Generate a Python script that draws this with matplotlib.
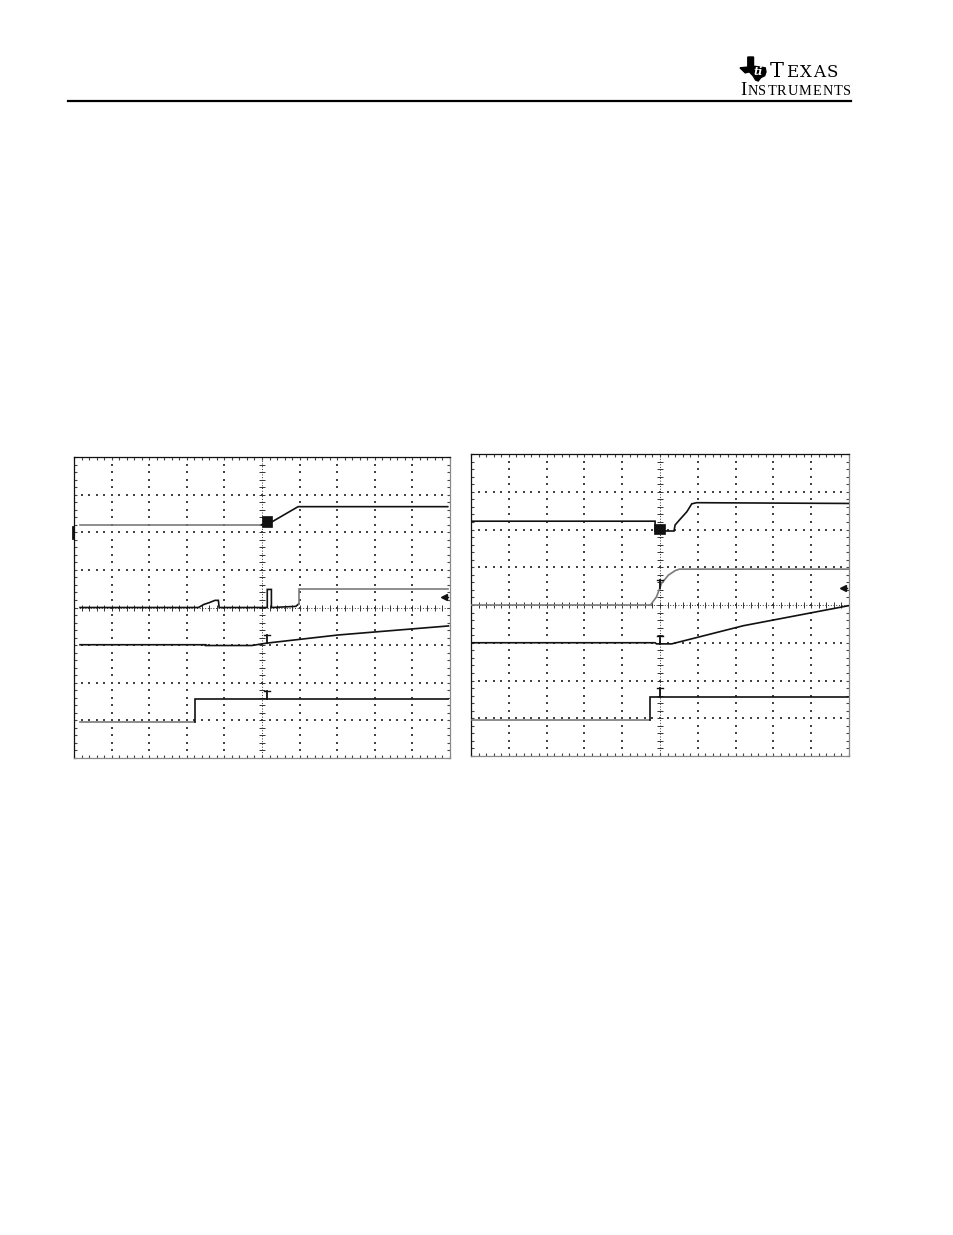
import numpy as np
import matplotlib.pyplot as plt
from matplotlib.lines import Line2D
from matplotlib.patches import Polygon, Rectangle

W, H = 954, 1235
fig = plt.figure(figsize=(W / 100, H / 100), dpi=100)
fig.patch.set_facecolor('white')

# ---------------- data (grid divisions: x 0..10, y 0..8) ----------------
# Left scope capture
L1_x = [0.16, 4.99, 5.27, 5.96, 9.94]
L1_y = [6.20, 6.20, 6.28, 6.68, 6.68]
L2_x = [0.16, 3.31, 3.45, 3.60, 3.75, 3.84, 3.86, 5.14, 5.14, 5.25, 5.25, 5.90, 5.98, 5.98, 9.94]
L2_y = [4.00, 4.00, 4.08, 4.13, 4.19, 4.19, 4.00, 4.00, 4.48, 4.48, 4.00, 4.03, 4.10, 4.48, 4.48]
L3_x = [0.16, 3.50, 3.50, 4.73, 5.04, 5.27, 7.03, 9.96]
L3_y = [3.01, 3.01, 2.99, 2.99, 3.04, 3.07, 3.27, 3.51]
L4_x = [0.16, 3.22, 3.22, 9.96]
L4_y = [0.96, 0.96, 1.57, 1.57]
# Right scope capture
R1_x = [0.02, 4.87, 4.87, 5.37, 5.40, 5.53, 5.71, 5.84, 5.97, 9.98]
R1_y = [6.22, 6.22, 5.96, 5.96, 6.12, 6.27, 6.47, 6.68, 6.71, 6.69]
R2_x = [0.02, 4.75, 4.91, 5.04, 5.22, 5.40, 5.51, 9.98]
R2_y = [4.00, 4.00, 4.22, 4.57, 4.79, 4.91, 4.95, 4.95]
R3_x = [0.02, 4.87, 4.91, 5.31, 7.20, 9.98]
R3_y = [3.00, 3.00, 2.97, 2.97, 3.45, 3.98]
R4_x = [0.02, 4.74, 4.74, 9.98]
R4_y = [0.95, 0.95, 1.55, 1.55]

# trace colours: (colour before, colour after, index of the point where it switches)
L_colors = [('#7a7a7a', '#111111', 1), ('#111111', '#7a7a7a', 12),
            ('#111111', '#111111', 0), ('#7a7a7a', '#111111', 1)]
R_colors = [('#111111', '#111111', 0), ('#7a7a7a', '#7a7a7a', 0),
            ('#111111', '#111111', 0), ('#7a7a7a', '#111111', 1)]

# cursor "T" markers: x, y bottom, y top
L_marks_x = [5.12, 5.12]
L_marks_y0 = [3.06, 1.57]
L_marks_y1 = [3.27, 1.78]
R_marks_x = [5.00, 5.00, 5.00]
R_marks_y0 = [4.44, 2.98, 1.57]
R_marks_y1 = [4.66, 3.19, 1.80]
# trigger boxes: x0, x1, y0, y1
L_box = (4.99, 5.27, 6.15, 6.42)
R_box = (4.84, 5.13, 5.88, 6.15)
# trigger level arrows at right edge (y)
L_arrow_y = 4.28
R_arrow_y = 4.44
# channel ground marker on the left edge
L_gnd = (5.86, 6.15)


def ax_at(x0, y0, x1, y1):
    return fig.add_axes([x0 / W, 1 - y1 / H, (x1 - x0) / W, (y1 - y0) / H])


def scope(ax, traces, colors, mx, my0, my1, box, arrow_y):
    ax.set_xlim(0, 10)
    ax.set_ylim(0, 8)
    ax.set_facecolor('white')
    for s in ['top', 'left']:
        ax.spines[s].set_color('#111111')
        ax.spines[s].set_linewidth(0.9)
    for s in ['right', 'bottom']:
        ax.spines[s].set_color('#8a8a8a')
        ax.spines[s].set_linewidth(0.9)
    ax.set_xticks(np.arange(0, 10.001, 0.2))
    ax.set_yticks(np.arange(0, 8.001, 0.2))
    ax.tick_params(direction='in', length=2.0, width=0.8, color='#444444',
                   top=True, right=True, labelbottom=False, labelleft=False)
    # dotted graticule
    for xv in [1, 2, 3, 4, 6, 7, 8, 9]:
        yy = np.arange(0.2, 8.0, 0.2)
        ax.scatter(np.full_like(yy, xv), yy, s=0.9, marker='s', c='#444444', linewidths=0, zorder=1)
    for yv in [1, 2, 3, 5, 6, 7]:
        xx = np.arange(0.2, 10.0, 0.2)
        ax.scatter(xx, np.full_like(xx, yv), s=0.9, marker='s', c='#444444', linewidths=0, zorder=1)
    # centre lines with ticks
    ax.axvline(5, color='#333333', lw=0.7, ls=(0, (1, 1.8)), zorder=1)
    ax.axhline(4, color='#333333', lw=0.7, ls=(0, (1, 1.8)), zorder=1)
    yy = np.arange(0.2, 8.0, 0.2)
    ax.plot(np.full_like(yy, 5), yy, ls='none', marker='_', ms=4, mew=0.7, color='#333333', zorder=1)
    xx = np.arange(0.2, 10.0, 0.2)
    ax.plot(xx, np.full_like(xx, 4), ls='none', marker='|', ms=4, mew=0.7, color='#333333', zorder=1)
    # traces
    for (xs, ys), (c0, c1, i) in zip(traces, colors):
        if i > 0:
            ax.plot(xs[:i + 1], ys[:i + 1], color=c0, lw=1.2, solid_joinstyle='miter', zorder=3)
        ax.plot(xs[i:], ys[i:], color=c1, lw=1.2, solid_joinstyle='miter', zorder=3)
    # cursor markers
    for x, y0, y1 in zip(mx, my0, my1):
        ax.plot([x, x], [y0, y1], color='#111111', lw=1.3, zorder=4)
        ax.plot([x - 0.08, x + 0.08], [y1, y1], color='#111111', lw=1.0, zorder=4)
    # trigger box
    x0, x1, y0, y1 = box
    ax.add_patch(Rectangle((x0, y0), x1 - x0, y1 - y0, facecolor='#111111',
                           edgecolor='#111111', lw=0.5, zorder=4))
    # trigger level arrow
    ax.plot([9.82, 9.96], [arrow_y, arrow_y], color='#111111', lw=1.0, clip_on=False, zorder=4)
    ax.plot([9.83], [arrow_y], marker='<', ms=4, color='#111111', clip_on=False, zorder=4)


axL = ax_at(74, 457, 450, 758)
scope(axL, [(L1_x, L1_y), (L2_x, L2_y), (L3_x, L3_y), (L4_x, L4_y)], L_colors,
      L_marks_x, L_marks_y0, L_marks_y1, L_box, L_arrow_y)
axL.plot([-0.03, -0.03], list(L_gnd), color='#111111', lw=2.0, clip_on=False, zorder=5)

axR = ax_at(471, 454, 849, 756)
scope(axR, [(R1_x, R1_y), (R2_x, R2_y), (R3_x, R3_y), (R4_x, R4_y)], R_colors,
      R_marks_x, R_marks_y0, R_marks_y1, R_box, R_arrow_y)

# ---------------- page header ----------------
fig.add_artist(Line2D([68 / W, 851 / W], [1 - 101 / H, 1 - 101 / H], color='black', lw=1.6))

renderer = fig.canvas.get_renderer()


def small_caps(x0_px, x1_px, base_px, word, big, small, family='DejaVu Serif'):
    """Place letters one by one so that the word spans x0..x1 pixels."""
    texts = []
    widths = []
    for k, ch in enumerate(word):
        t = fig.text(0, 1 - base_px / H, ch, fontsize=big if k == 0 else small,
                     family=family, va='baseline', ha='left', color='black')
        widths.append(t.get_window_extent(renderer).width)
        texts.append(t)
    total = sum(widths)
    gap = (x1_px - x0_px - total) / max(len(word) - 1, 1)
    x = x0_px
    for t, w in zip(texts, widths):
        t.set_x(x / W)
        x += w + gap


small_caps(770, 838, 77, 'TEXAS', 15, 12)
small_caps(740, 851, 95, 'INSTRUMENTS', 13.5, 10.3, family='Liberation Serif')

# TI state-shaped emblem
ex0, ey0, ew, eh = 740, 57, 26, 24
shape = [(0.30, 0.00), (0.52, 0.00), (0.52, 0.38), (0.78, 0.42), (0.97, 0.45), (1.00, 0.62),
         (0.95, 0.78), (0.80, 0.86), (0.70, 1.00), (0.60, 0.96), (0.50, 0.78), (0.36, 0.62),
         (0.20, 0.66), (0.00, 0.45), (0.30, 0.42)]
pts = [((ex0 + u * ew) / W, 1 - (ey0 + v * eh) / H) for u, v in shape]
fig.add_artist(Polygon(pts, closed=True, facecolor='black', edgecolor='black',
                       transform=fig.transFigure))
fig.text((ex0 + 0.68 * ew) / W, 1 - (ey0 + 0.62 * eh) / H, 'ti', fontsize=8, color='white',
         style='italic', weight='bold', family='DejaVu Serif', ha='center', va='center')

fig.savefig('out.png', dpi=100, facecolor='white')
